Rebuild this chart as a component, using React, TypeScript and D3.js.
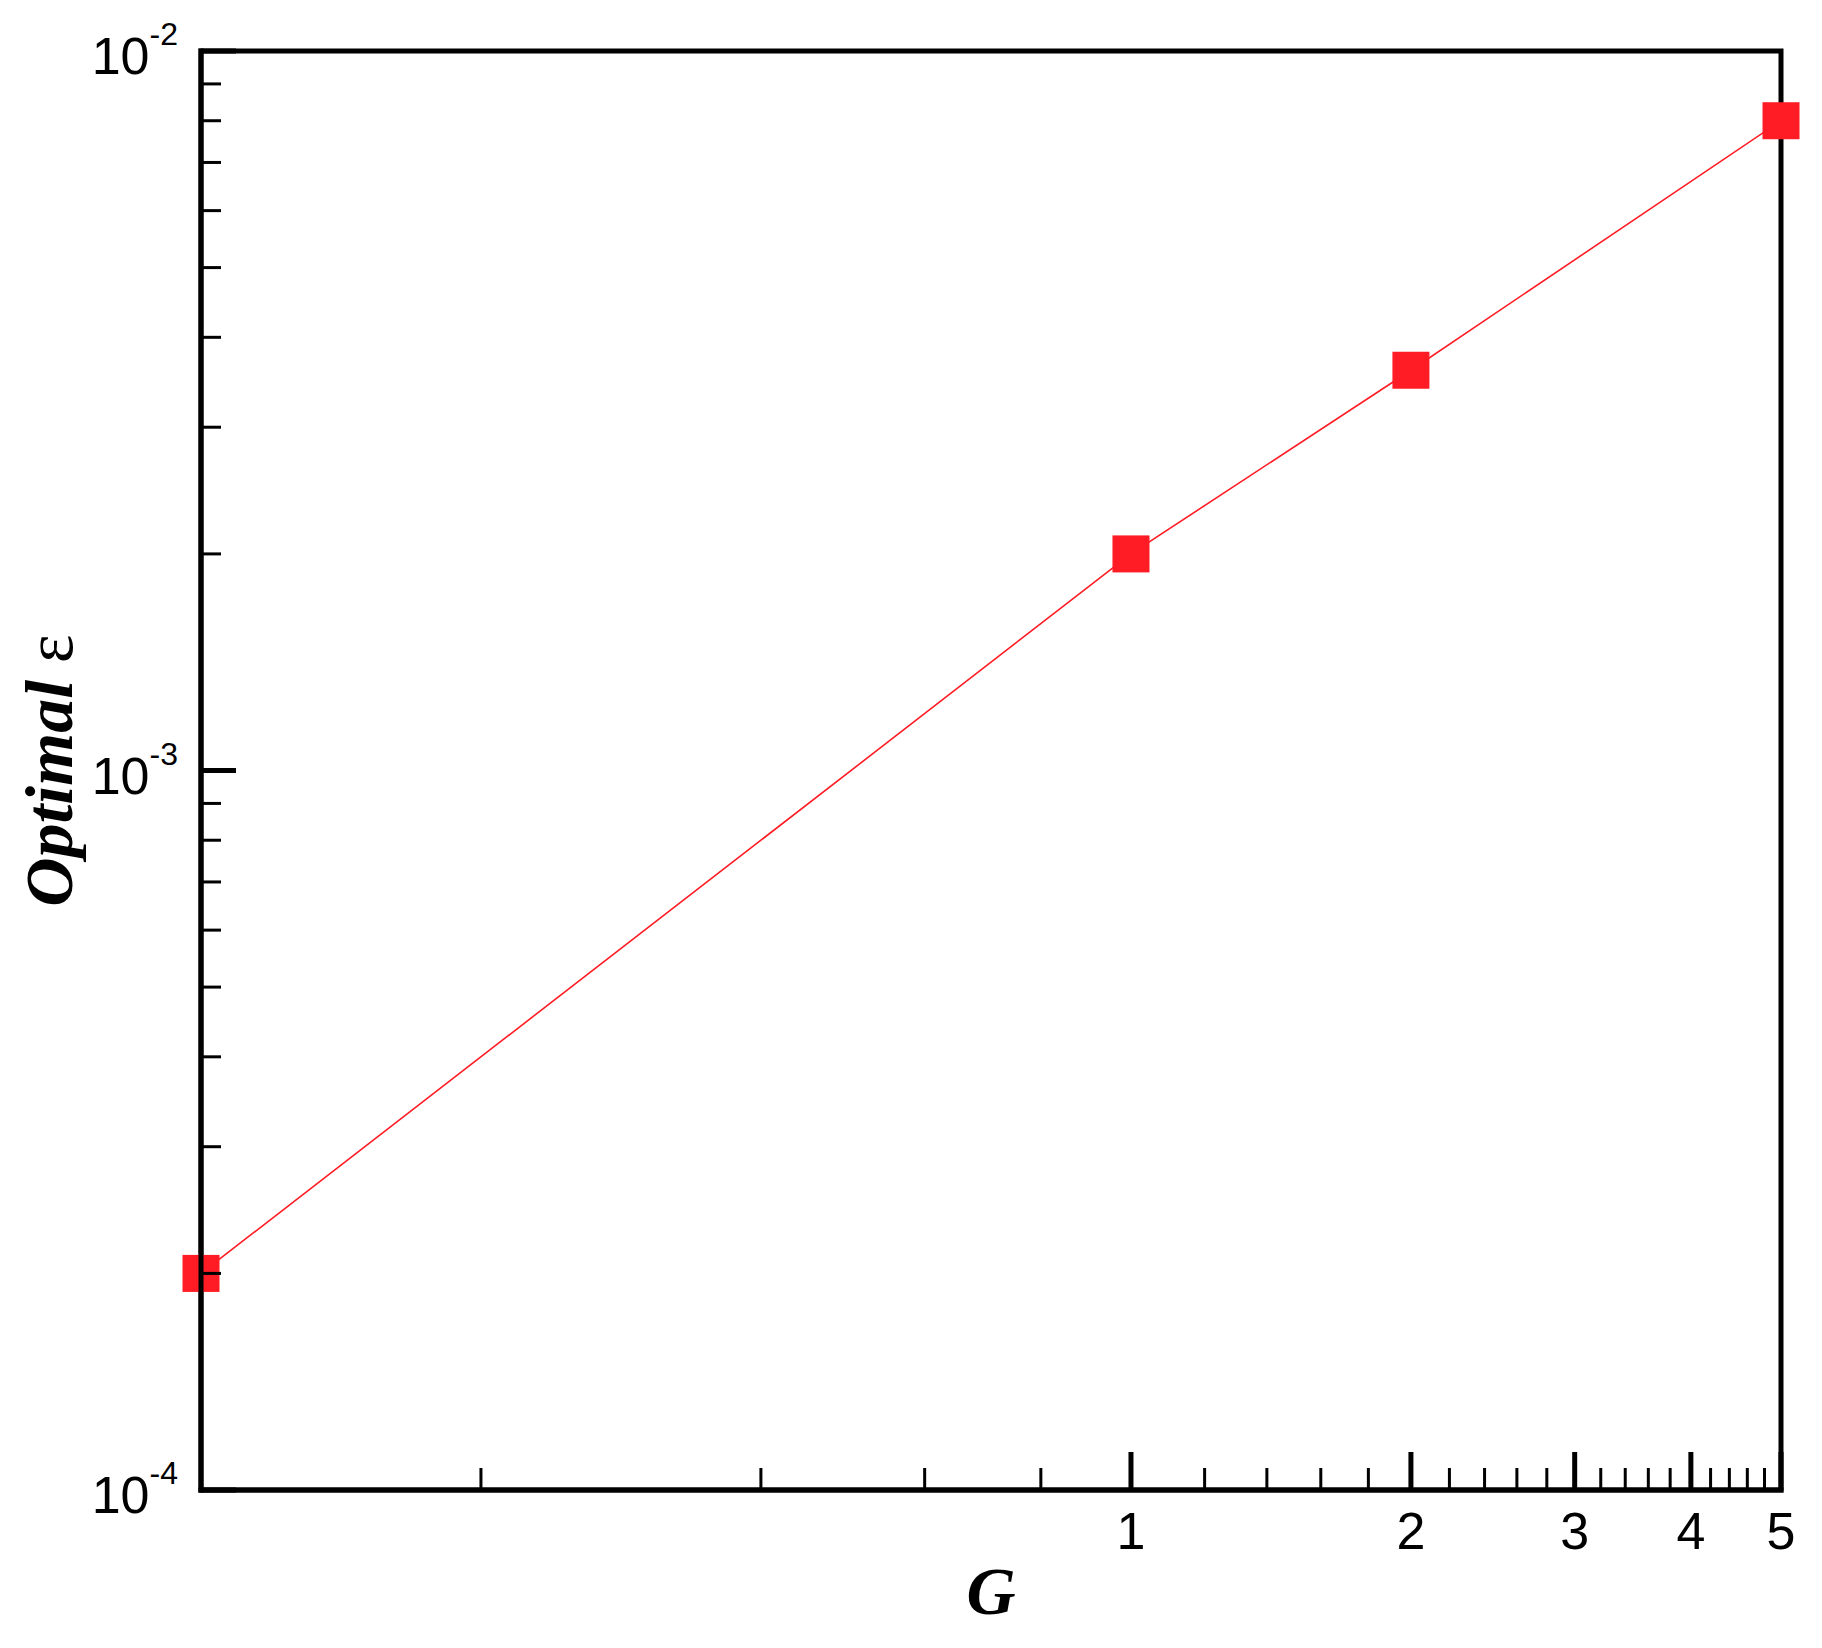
import React from 'react'
import * as d3 from 'd3'

// data
const gValues = [0.1, 1, 2, 5]
const epsValues = [0.0002, 0.002, 0.0036, 0.008]

const xMajorTicks = [1, 2, 3, 4, 5]
const xMajorLabels = ['1', '2', '3', '4', '5']
const xMinorTicks = [0.2, 0.4, 0.6, 0.8, 1.2, 1.4, 1.6, 1.8, 2.2, 2.4, 2.6, 2.8, 3.2, 3.4, 3.6, 3.8, 4.2, 4.4, 4.6, 4.8]

const yMajorTicks = [1e-4, 1e-3, 1e-2]
const yMajorExponents = ['-4', '-3', '-2']
const yMinorTicks = [
  2e-4, 3e-4, 4e-4, 5e-4, 6e-4, 7e-4, 8e-4, 9e-4,
  2e-3, 3e-3, 4e-3, 5e-3, 6e-3, 7e-3, 8e-3, 9e-3
]

const width = 1822
const height = 1648
const plot = { left: 201, right: 1781, top: 51, bottom: 1490 }
const sans = '"Liberation Sans", Arial, Helvetica, sans-serif'
const serif = '"Liberation Serif", "Times New Roman", serif'
const red = '#ff1c24'

export default function App() {
  const x = d3.scaleLog().domain([0.1, 5]).range([plot.left, plot.right])
  const y = d3.scaleLog().domain([1e-4, 1e-2]).range([plot.bottom, plot.top])
  const points = gValues.map((g, i) => [g, epsValues[i]] as [number, number])
  const line = d3.line<[number, number]>().x(d => x(d[0])).y(d => y(d[1]))
  const markerSize = 37

  return (
    <div style={{ position: 'absolute', left: 0, top: 0 }}>
      <svg width={width} height={height} viewBox={`0 0 ${width} ${height}`} style={{ display: 'block', background: '#fff' }}>
        {/* frame */}
        <rect x={plot.left} y={plot.top} width={plot.right - plot.left} height={plot.bottom - plot.top} fill="none" stroke="#000" strokeWidth={5} />

        {/* series */}
        <path d={line(points) || ''} fill="none" stroke={red} strokeWidth={1.6} />
        {points.map((p, i) => (
          <rect key={`m_${i}`} x={x(p[0]) - markerSize / 2} y={y(p[1]) - markerSize / 2} width={markerSize} height={markerSize} fill={red} />
        ))}

        {/* left and bottom spines drawn over the markers */}
        <line x1={plot.left} x2={plot.left} y1={plot.top - 2.5} y2={plot.bottom + 2.5} stroke="#000" strokeWidth={5} />
        <line x1={plot.left - 2.5} x2={plot.right + 2.5} y1={plot.bottom} y2={plot.bottom} stroke="#000" strokeWidth={5} />

        {/* y ticks */}
        {yMinorTicks.map((t, i) => (
          <line key={`ymi_${i}`} x1={plot.left} x2={plot.left + 20} y1={y(t)} y2={y(t)} stroke="#000" strokeWidth={3} />
        ))}
        {yMajorTicks.map((t, i) => (
          <g key={`yma_${i}`}>
            <line x1={plot.left} x2={plot.left + 35} y1={y(t)} y2={y(t)} stroke="#000" strokeWidth={5} />
            <text x={178} y={y(t) + 23} textAnchor="end" fontFamily={sans} fontSize={52} fill="#000">
              10<tspan dy={-29} fontSize={32}>{yMajorExponents[i]}</tspan>
            </text>
          </g>
        ))}

        {/* x ticks */}
        {xMinorTicks.map((t, i) => (
          <line key={`xmi_${i}`} x1={x(t)} x2={x(t)} y1={plot.bottom} y2={plot.bottom - 22} stroke="#000" strokeWidth={3} />
        ))}
        {xMajorTicks.map((t, i) => (
          <g key={`xma_${i}`}>
            <line x1={x(t)} x2={x(t)} y1={plot.bottom} y2={plot.bottom - 38} stroke="#000" strokeWidth={5} />
            <text x={x(t)} y={1549} textAnchor="middle" fontFamily={sans} fontSize={52} fill="#000">{xMajorLabels[i]}</text>
          </g>
        ))}

        {/* axis titles */}
        <text x={(plot.left + plot.right) / 2} y={1614} textAnchor="middle" fontFamily={serif} fontWeight="bold" fontStyle="italic" fontSize={68} fill="#000">G</text>
        <text transform={`translate(72,${(plot.top + plot.bottom) / 2}) rotate(-90)`} textAnchor="middle" fontFamily={serif} fontSize={68} fill="#000">
          <tspan fontWeight="bold" fontStyle="italic">Optimal </tspan>
          <tspan>ε</tspan>
        </text>
      </svg>
    </div>
  )
}
